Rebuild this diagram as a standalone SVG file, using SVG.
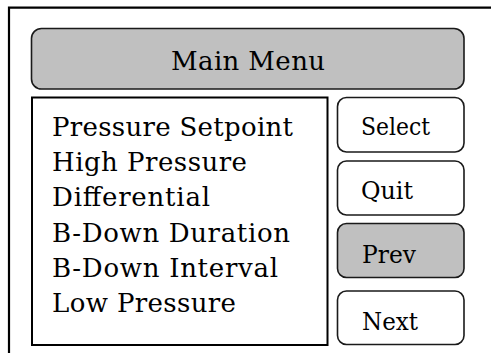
<svg xmlns="http://www.w3.org/2000/svg" width="491" height="353" viewBox="0 0 491 353">
<style>
.frame{fill:none;stroke:#000;stroke-width:2.2}
.hdr{fill:#c0c0c0;stroke:#1a1a1a;stroke-width:1.6}
.list{fill:#fff;stroke:#000;stroke-width:2}
.btn{fill:#fff;stroke:#1a1a1a;stroke-width:1.6}
.btn.on{fill:#c0c0c0}
text{font-family:"DejaVu Serif","Liberation Serif",serif;fill:#000}
.t{font-size:26px}
.b{font-size:24px}
</style>
<rect width="491" height="353" fill="#fff"/>
<path class="frame" d="M9,353 V7.7 H491"/>
<g id="header">
<rect class="hdr" x="31.5" y="28.5" width="432.5" height="60.5" rx="10"/>
<text class="t" x="171" y="70" textLength="154">Main Menu</text>
</g>
<g id="list">
<rect class="list" x="32" y="97.5" width="295.5" height="247.5"/>
<text class="t" x="52" y="136" textLength="241">Pressure Setpoint</text>
<text class="t" x="52" y="171.2" textLength="195">High Pressure</text>
<text class="t" x="52" y="206.4" textLength="158">Differential</text>
<text class="t" x="52" y="241.6" textLength="238">B-Down Duration</text>
<text class="t" x="52" y="276.8" textLength="226">B-Down Interval</text>
<text class="t" x="52" y="312" textLength="184">Low Pressure</text>
</g>
<g id="select">
<rect class="btn" x="337.5" y="97.5" width="126.5" height="54.5" rx="9"/>
<text class="b" x="361" y="135" textLength="69" lengthAdjust="spacingAndGlyphs">Select</text>
</g>
<g id="quit">
<rect class="btn" x="337.5" y="161" width="126.5" height="54" rx="9"/>
<text class="b" x="361" y="199" textLength="52" lengthAdjust="spacingAndGlyphs">Quit</text>
</g>
<g id="prev">
<rect class="btn on" x="337.5" y="223.5" width="126.5" height="54" rx="9"/>
<text class="b" x="362" y="263" textLength="54" lengthAdjust="spacingAndGlyphs">Prev</text>
</g>
<g id="next">
<rect class="btn" x="337.5" y="291" width="126.5" height="53.5" rx="9"/>
<text class="b" x="362" y="330" textLength="56" lengthAdjust="spacingAndGlyphs">Next</text>
</g>
<g id="connectors"></g>
</svg>
